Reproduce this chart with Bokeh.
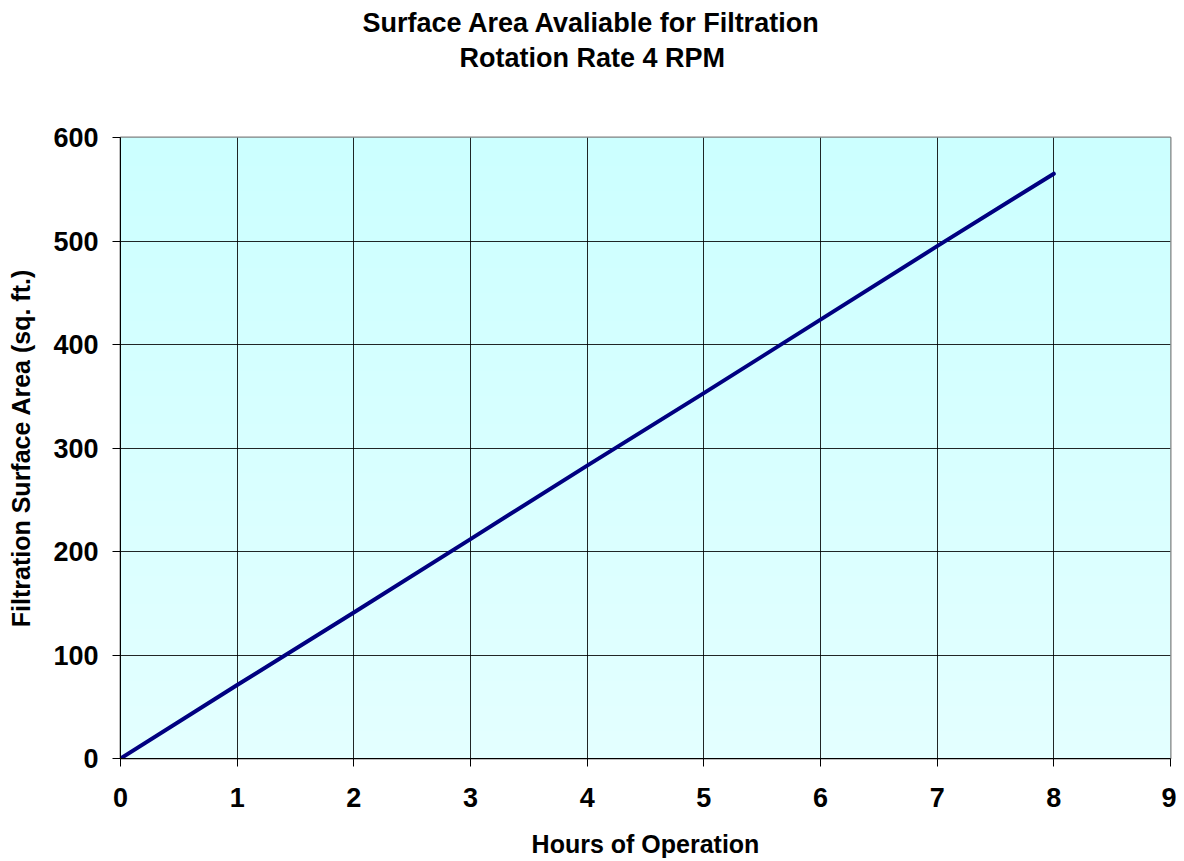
import numpy as np
from bokeh.plotting import figure
from bokeh.models import Range1d, FixedTicker, Title
from bokeh.embed import file_html
from bokeh.resources import INLINE

# ---- data ----
hours = [0, 1, 2, 3, 4, 5, 6, 7, 8]
area = [0, 71, 141, 212, 283, 353, 424, 495, 565]
x_ticks = [0, 1, 2, 3, 4, 5, 6, 7, 8, 9]
y_ticks = [0, 100, 200, 300, 400, 500, 600]
title_lines = ["Surface Area Avaliable for Filtration", "Rotation Rate 4 RPM"]
x_title = "Hours of Operation"
y_title = "Filtration Surface Area (sq. ft.)"

FONT = "Liberation Sans"

p = figure(width=1176, height=860, output_backend="svg", toolbar_location=None,
           x_range=Range1d(0, 9), y_range=Range1d(0, 600),
           min_border_left=120, min_border_right=6, min_border_top=137, min_border_bottom=102)
p.background_fill_color = "white"
p.border_fill_color = "white"
p.outline_line_color = "#808080"
p.outline_line_width = 2

# gradient background of plot area
n = 200
top = np.array([204, 255, 255], dtype=float)
bot = np.array([228, 255, 255], dtype=float)
img = np.zeros((n, 1), dtype=np.uint32)
view = img.view(dtype=np.uint8).reshape((n, 1, 4))
for i in range(n):
    t = i / (n - 1)  # 0 at bottom row, 1 at top
    c = bot + (top - bot) * t
    view[i, 0, 0] = int(c[0]); view[i, 0, 1] = int(c[1]); view[i, 0, 2] = int(c[2]); view[i, 0, 3] = 255
p.image_rgba(image=[img], x=x_ticks[0], y=y_ticks[0], dw=x_ticks[-1] - x_ticks[0], dh=y_ticks[-1] - y_ticks[0],
             level="image")

p.line(hours, area, line_color="#000080", line_width=4, line_cap="round", line_join="round")

for ax, ticks in ((p.xaxis, x_ticks), (p.yaxis, y_ticks)):
    ax.ticker = FixedTicker(ticks=ticks)
    ax.major_tick_out = 8
    ax.major_tick_in = 0
    ax.minor_tick_out = 0
    ax.minor_tick_in = 0
    ax.axis_line_color = "black"
    ax.major_tick_line_color = "black"
    ax.major_label_text_font = FONT
    ax.major_label_text_font_style = "bold"
    ax.major_label_text_font_size = "27px"
    ax.major_label_text_color = "black"
    ax.axis_label_text_font = FONT
    ax.axis_label_text_font_style = "bold"
    ax.axis_label_text_color = "black"

p.xaxis.axis_label = x_title
p.yaxis.axis_label = y_title
p.xaxis.axis_label_text_font_size = "25px"
p.yaxis.axis_label_text_font_size = "25px"
p.xaxis.major_label_standoff = 21
p.yaxis.major_label_standoff = 14
p.xaxis.axis_label_standoff = 20
p.yaxis.axis_label_standoff = 15

for g in (p.xgrid, p.ygrid):
    g.grid_line_color = "black"
    g.grid_line_width = 1
    g.grid_line_alpha = 0.85
p.xgrid.ticker = FixedTicker(ticks=x_ticks)
p.ygrid.ticker = FixedTicker(ticks=y_ticks)

# spacer between plot area and the title block
p.add_layout(Title(text=" ", text_font_size="1px", standoff=62), "above")
# title lines (closest to the plot area first), centred on the page
for txt, off, so in ((title_lines[1], 339, 0), (title_lines[0], 242, 6)):
    p.add_layout(Title(text=txt, align="left", offset=off, standoff=so,
                       text_font=FONT, text_font_style="bold", text_font_size="27px",
                       text_color="black"), "above")

open("out.html", "w").write(file_html(p, INLINE))
